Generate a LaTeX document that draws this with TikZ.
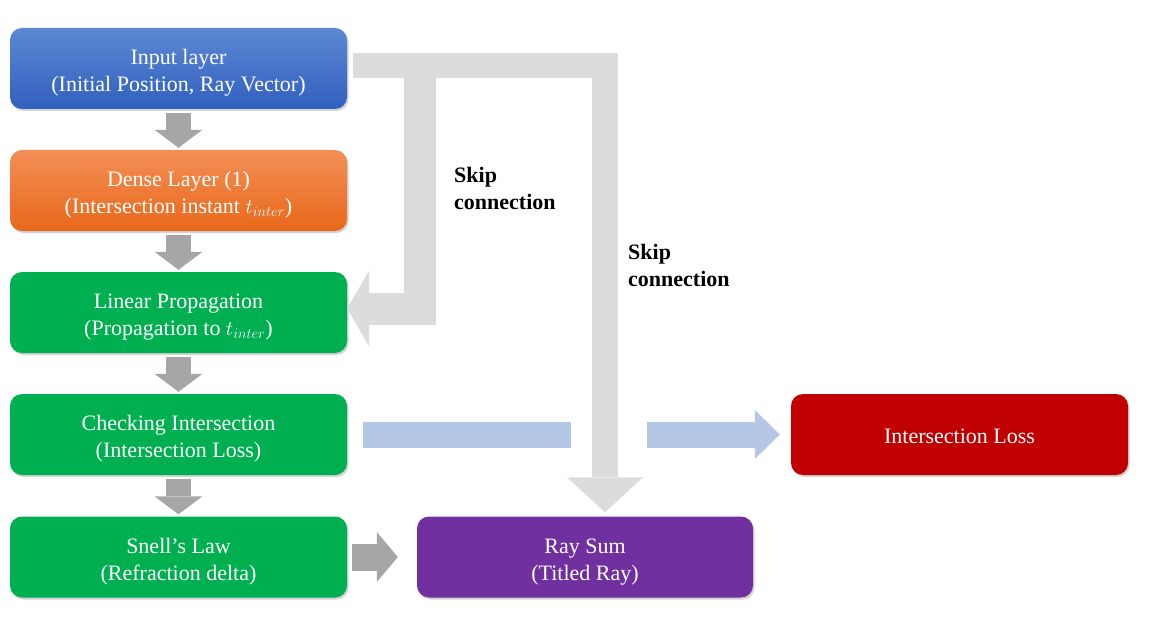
\documentclass[tikz,border=0pt]{standalone}
\usepackage{fontspec}
\setmainfont{Liberation Serif}
\usetikzlibrary{arrows.meta,calc,shadows}

\definecolor{skipgray}{RGB}{220,220,220}
\definecolor{flowgray}{RGB}{166,166,166}
\definecolor{lossblue}{RGB}{180,199,231}
\definecolor{inblue1}{RGB}{92,136,211}
\definecolor{inblue2}{RGB}{49,96,190}
\definecolor{dsorange1}{RGB}{243,143,86}
\definecolor{dsorange2}{RGB}{232,104,26}
\definecolor{layergreen}{RGB}{0,176,80}
\definecolor{sumpurple}{RGB}{112,48,160}
\definecolor{lossred}{RGB}{192,0,0}

\newcommand{\toplead}[1][24pt]{\rule{0pt}{#1}}

\begin{document}
\begin{tikzpicture}[x=1pt,y=-1pt,
  layer/.style={rounded corners=12pt, minimum width=337pt, minimum height=81pt,
    inner sep=0pt, align=center, text=white, font=\fontsize{22}{27}\selectfont,
    drop shadow={opacity=0.35, shadow xshift=1.5pt, shadow yshift=-2pt}},
  flow/.style={draw=flowgray, line width=25pt,
    -{Triangle[width=48pt,length=18pt,line width=0pt]}},
  skip/.style={draw=skipgray, line width=25.5pt},
  lossline/.style={draw=lossblue, line width=26pt},
  note/.style={anchor=west, inner sep=0pt, align=left,
    font=\bfseries\fontsize{22}{27}\selectfont}]
\useasboundingbox (0,0) rectangle (1155,639);

% layers
\node[layer, top color=inblue1, bottom color=inblue2] (in) at (178.5,68.5)
  {\toplead Input layer\\(Initial Position, Ray Vector)};
\node[layer, top color=dsorange1, bottom color=dsorange2] (dense) at (178.5,190.5)
  {\toplead Dense Layer (1)\\(Intersection instant $t_{inter}$)};
\node[layer, fill=layergreen] (lin) at (178.5,312.5)
  {\toplead Linear Propagation\\(Propagation to $t_{inter}$)};
\node[layer, fill=layergreen] (chk) at (178.5,434.5)
  {\toplead Checking Intersection\\(Intersection Loss)};
\node[layer, fill=layergreen] (snell) at (178.5,557)
  {\toplead Snell's Law\\(Refraction delta)};
\node[layer, fill=sumpurple, minimum width=336pt] (raysum) at (585,557)
  {\toplead Ray Sum\\(Titled Ray)};
\node[layer, fill=lossred] (loss) at (959.5,434.5)
  {\toplead[19pt]Intersection Loss};

% main flow
\foreach \a/\b in {in/dense, dense/lin, lin/chk, chk/snell}
  \draw[flow] ($(\a.south)+(0,4)$) -- ($(\b.north)+(0,-2)$);
\draw[flow, line width=27pt, -{Triangle[width=50pt,length=21pt,line width=0pt]}]
  ($(snell.east)+(5,0)$) -- ($(raysum.west)+(-19,0)$);

% skip connections
\draw[skip, -{Triangle[width=76pt,length=35pt,line width=0pt]}]
  ($(in.east)+(6,-3)$) -| ($(raysum.north)+(20,-4)$);
\draw[skip, line width=32pt, -{Triangle[width=76pt,length=22pt,line width=0pt]}]
  ($(in.east)+(73,-3)$) |- ($(lin.east)+(0,-4)$);
\node[note] (skipa) at (454,188) {Skip\\connection};
\node[note] (skipb) at (628,265.5) {Skip\\connection};

% loss branch
\coordinate (gapl) at ($(raysum.north)+(-14,0)$);
\coordinate (gapr) at ($(raysum.north)+(62,0)$);
\draw[lossline] ($(chk.east)+(16,0)$) -- (chk.east -| gapl);
\draw[lossline, -{Triangle[width=49pt,length=25pt,line width=0pt]}]
  (chk.east -| gapr) -- ($(loss.west)+(-11,0)$);
\end{tikzpicture}
\end{document}
